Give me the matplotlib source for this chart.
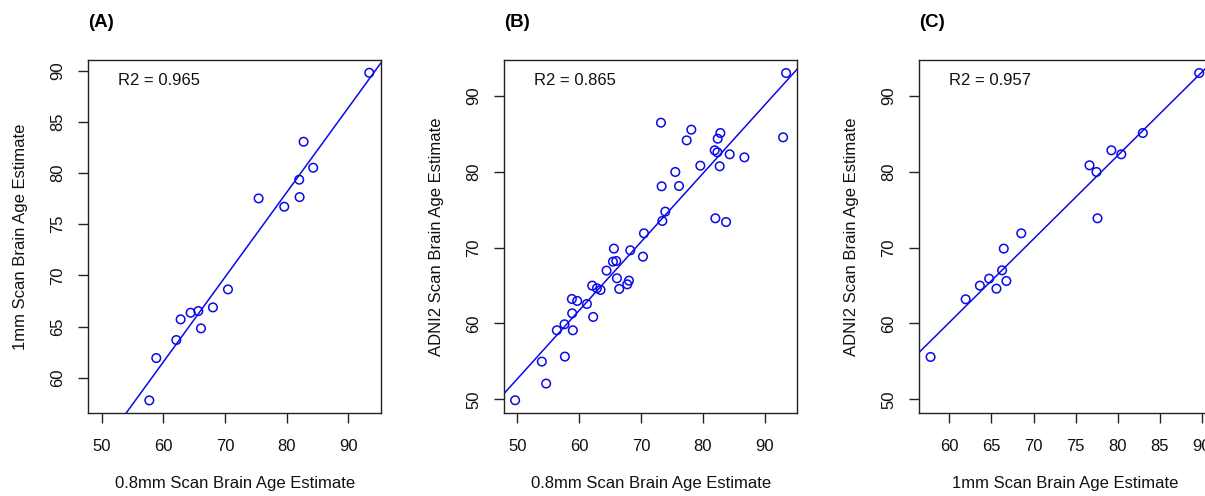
import numpy as np
import matplotlib
matplotlib.use('Agg')
import matplotlib.pyplot as plt

plt.rcParams['font.family'] = ['Liberation Sans', 'DejaVu Sans']

# Panel A: 0.8mm vs 1mm
a_x = [57.73, 58.86, 62.11, 62.81, 64.43, 65.68, 66.11, 68.05, 70.49, 75.46,
       79.62, 82.05, 82.11, 82.76, 84.32, 93.41]
a_y = [57.78, 61.92, 63.68, 65.70, 66.35, 66.51, 64.82, 66.87, 68.63, 77.52,
       76.71, 79.35, 77.65, 83.06, 80.52, 89.80]

# Panel B: 0.8mm vs ADNI2
b_x = [49.62, 53.94, 54.64, 56.37, 57.61, 57.67, 58.80, 58.85, 58.96, 59.66,
       61.23, 62.09, 62.25, 62.85, 63.44, 64.41, 65.44, 65.60, 65.98, 66.09,
       66.46, 67.76, 68.03, 68.25, 70.30, 70.46, 73.32, 73.21, 73.43, 73.91,
       75.53, 76.13, 77.37, 78.12, 79.58, 82.01, 81.90, 82.34, 82.39, 82.82,
       82.71, 83.74, 84.33, 86.71, 92.97, 93.45]
b_y = [49.87, 54.97, 52.07, 59.10, 59.89, 55.63, 63.23, 61.34, 59.10, 62.97,
       62.57, 64.99, 60.86, 64.64, 64.42, 66.97, 68.15, 69.87, 68.24, 65.96,
       64.55, 65.16, 65.65, 69.65, 68.81, 71.89, 78.09, 86.48, 73.52, 74.75,
       79.98, 78.13, 84.15, 85.56, 80.81, 73.87, 82.84, 82.57, 84.37, 85.12,
       80.73, 73.38, 82.31, 81.91, 84.55, 93.03]

# Panel C: 1mm vs ADNI2
c_x = [57.76, 61.93, 63.62, 64.72, 65.59, 66.26, 66.46, 66.77, 68.54, 76.65,
       77.48, 77.60, 79.25, 80.43, 82.99, 89.69]
c_y = [55.58, 63.19, 64.99, 65.91, 64.59, 67.01, 69.87, 65.60, 71.89, 80.86,
       79.98, 73.87, 82.84, 82.31, 85.12, 93.03]

panels = [
    {'tag': '(A)', 'x': a_x, 'y': a_y, 'r2': 'R2 = 0.965',
     'xlabel': '0.8mm Scan Brain Age Estimate', 'ylabel': '1mm Scan Brain Age Estimate',
     'xlim': (47.83, 95.3), 'ylim': (56.52, 91.02),
     'xticks': [50, 60, 70, 80, 90], 'yticks': [60, 65, 70, 75, 80, 85, 90],
     'left': 88.3},
    {'tag': '(B)', 'x': b_x, 'y': b_y, 'r2': 'R2 = 0.865',
     'xlabel': '0.8mm Scan Brain Age Estimate', 'ylabel': 'ADNI2 Scan Brain Age Estimate',
     'xlim': (47.87, 95.2), 'ylim': (48.15, 94.71),
     'xticks': [50, 60, 70, 80, 90], 'yticks': [50, 60, 70, 80, 90],
     'left': 504.3},
    {'tag': '(C)', 'x': c_x, 'y': c_y, 'r2': 'R2 = 0.957',
     'xlabel': '1mm Scan Brain Age Estimate', 'ylabel': 'ADNI2 Scan Brain Age Estimate',
     'xlim': (56.42, 91.2), 'ylim': (48.15, 94.71),
     'xticks': [60, 65, 70, 75, 80, 85, 90], 'yticks': [50, 60, 70, 80, 90],
     'left': 919.3},
]

W, H = 1205, 496
fig = plt.figure(figsize=(W / 100, H / 100), dpi=100)
blue = '#0a0ae6'
edge = '#222222'

for p in panels:
    ax = fig.add_axes([p['left'] / W, (H - 413.3) / H, 292.6 / W, 353 / H])
    x = np.array(p['x'])
    y = np.array(p['y'])
    ax.scatter(x, y, s=38, facecolors='none', edgecolors=blue, linewidths=1.1, zorder=3)
    # least squares line, drawn across the whole panel like abline()
    slope, intercept = np.polyfit(x, y, 1)
    ax.axline((0, intercept), slope=slope, color=blue, lw=1.1, zorder=2)
    ax.set_xlim(p['xlim'])
    ax.set_ylim(p['ylim'])
    ax.set_xticks(p['xticks'])
    ax.set_yticks(p['yticks'])
    ax.tick_params(length=7.5, width=1.0, color=edge, labelsize=12, labelcolor='#111111')
    ax.tick_params(axis='x', pad=11)
    ax.tick_params(axis='y', pad=9)
    for lab in ax.get_yticklabels():
        lab.set_rotation(90)
        lab.set_va('center')
    for s in ax.spines.values():
        s.set_color(edge)
        s.set_linewidth(1.0)
    ax.set_xlabel(p['xlabel'], fontsize=12, color='#111111', va='center')
    ax.set_ylabel(p['ylabel'], fontsize=12, color='#111111', va='center')
    ax.xaxis.set_label_coords(0.5, -0.2)
    ax.yaxis.set_label_coords(-0.233, 0.5)
    ax.text(0.103, 0.942, p['r2'], transform=ax.transAxes, fontsize=12,
            va='center', ha='left', color='#111111')
    fig.text(p['left'] / W, 1 - 22.5 / H, p['tag'], fontsize=13.5, fontweight='bold',
             va='center', ha='left')

fig.savefig('out.png', dpi=100)
